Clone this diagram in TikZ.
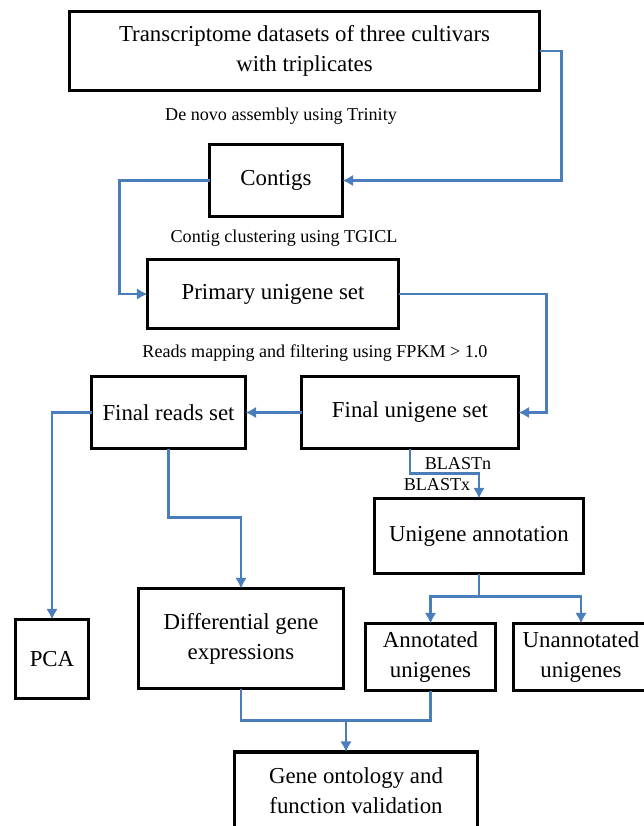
\documentclass[tikz,border=0pt]{standalone}
\usepackage{fontspec}
\setmainfont{Liberation Serif}
\usepackage{tikz}
\usetikzlibrary{arrows.meta,positioning,calc}
\definecolor{flowblue}{RGB}{74,126,187}

\begin{document}
\begin{tikzpicture}[node distance=1cm,on grid,>={Latex[length=6pt,width=6.5pt]}]
\tikzstyle{box}=[draw, line width=2pt, outer sep=0pt, align=center, inner sep=2pt, font=\fontsize{13}{17}\selectfont]
\tikzstyle{lbl}=[inner sep=0pt, font=\fontsize{10.3}{12}\selectfont]
\tikzstyle{flow}=[->, flowblue, line width=1.6pt]
\tikzstyle{line}=[flowblue, line width=1.6pt]
\useasboundingbox (0,0) rectangle (12.86,-16.52);

\node[box, minimum width=9.4cm, minimum height=1.58cm] (data) at (6.09,-1.02) {Transcriptome datasets of three cultivars \\ with triplicates};
\node[box, below=2.59cm of data, xshift=-0.57cm, minimum width=2.66cm, minimum height=1.44cm] (contigs) {Contigs};
\node[box, below=2.27cm of contigs, xshift=-0.06cm, minimum width=5.02cm, minimum height=1.38cm] (primary) {Primary unigene set};
\node[box, below=2.37cm of primary, xshift=2.74cm, minimum width=4.34cm, minimum height=1.44cm] (funi) {Final unigene set};
\node[box, left=4.83cm of funi, minimum width=3.08cm, minimum height=1.44cm] (freads) {Final reads set};
\node[box, below=2.47cm of funi, xshift=1.38cm, minimum width=4.18cm, minimum height=1.5cm] (annot) {Unigene annotation};
\node[box, below=4.93cm of freads, xshift=-2.33cm, minimum width=1.46cm, minimum height=1.58cm] (pca) {PCA};
\node[box, below=4.52cm of freads, xshift=1.45cm, minimum width=4.1cm, minimum height=2cm] (deg) {Differential gene \\ expressions};
\node[box, below=2.42cm of annot, xshift=-0.97cm, minimum width=2.6cm, minimum height=1.34cm] (anno) {Annotated \\ unigenes};
\node[box, right=3.01cm of anno, minimum width=2.7cm, minimum height=1.34cm] (unanno) {Unannotated \\ unigenes};
\node[box, below=3.05cm of deg, xshift=2.3cm, minimum width=4.86cm, minimum height=1.56cm] (go) {Gene ontology and \\ function validation};

% step labels
\node[lbl] (assemble) at (5.62,-2.32) {De novo assembly using Trinity};
\node[lbl] (cluster) at (5.68,-4.76) {Contig clustering using TGICL};
\node[lbl] (mapping) at (6.3,-7.06) {Reads mapping and filtering using FPKM > 1.0};
\node[lbl] (blastn) at (9.16,-9.28) {BLASTn};
\node[lbl] (blastx) at (8.74,-9.7) {BLASTx};

\draw[flow] (data.east) -- ++(0.44,0) |- (contigs.east);
\draw[flow] (contigs.west) -- ++(-1.8,0) |- (primary.west);
\draw[flow] (primary.east) -- ++(2.96,0) |- (funi.east);
\draw[flow] (funi.west) -- (freads.east);
\draw[flow] (freads.west) -| (pca.north);
\draw[flow] (freads.south) -- ++(0,-1.38) -| (deg.north);
\draw[flow] (funi.south) -- ++(0,-0.5) -| (annot.north);
\draw[line] (annot.south) -- ++(0,-0.46) coordinate (split);
\draw[flow] (split) -| (anno.north);
\draw[flow] (split) -| (unanno.north);
\draw[line] (deg.south) -- ++(0,-0.64) coordinate (join) -| (anno.south);
\coordinate (merge) at ([xshift=2.1cm]join);
\draw[flow] (merge) -- (merge |- go.north);
\end{tikzpicture}
\end{document}
